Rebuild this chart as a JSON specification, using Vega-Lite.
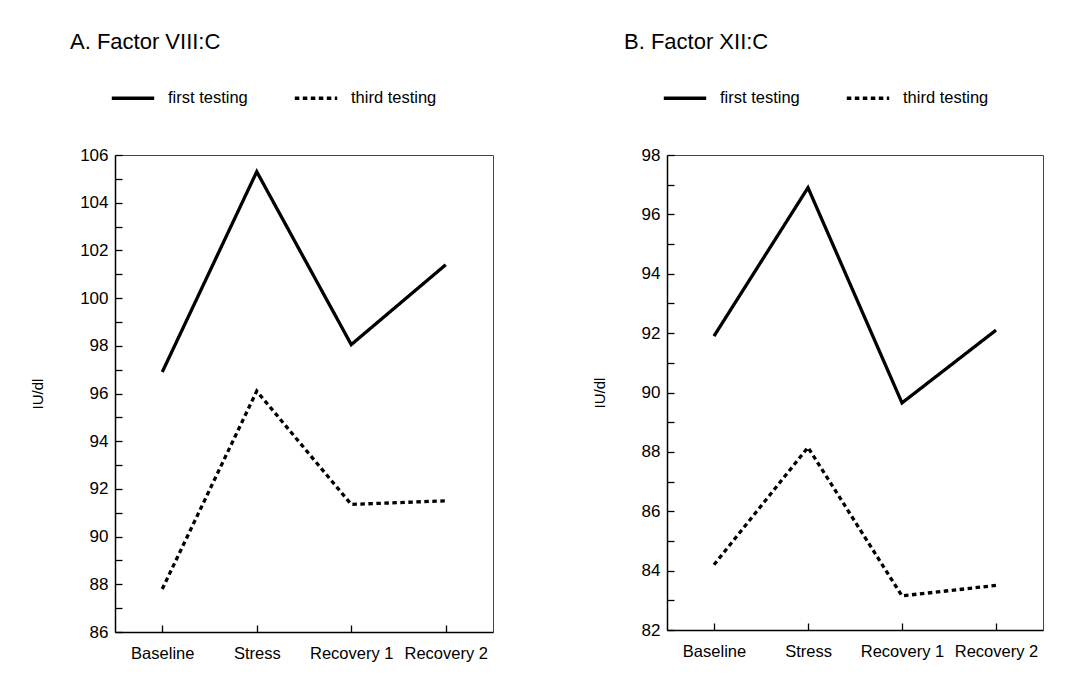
{
  "$schema": "https://vega.github.io/schema/vega-lite/v6.json",
  "background": "white",
  "padding": {"left": 30, "top": 30, "right": 5, "bottom": 5},
  "datasets": {
    "d": [
      {"panel": "A", "time": "Baseline", "testing": "first testing", "value": 96.9},
      {"panel": "A", "time": "Stress", "testing": "first testing", "value": 105.3},
      {"panel": "A", "time": "Recovery 1", "testing": "first testing", "value": 98.05},
      {"panel": "A", "time": "Recovery 2", "testing": "first testing", "value": 101.4},
      {"panel": "A", "time": "Baseline", "testing": "third testing", "value": 87.8},
      {"panel": "A", "time": "Stress", "testing": "third testing", "value": 96.1},
      {"panel": "A", "time": "Recovery 1", "testing": "third testing", "value": 91.35},
      {"panel": "A", "time": "Recovery 2", "testing": "third testing", "value": 91.5},
      {"panel": "B", "time": "Baseline", "testing": "first testing", "value": 91.9},
      {"panel": "B", "time": "Stress", "testing": "first testing", "value": 96.9},
      {"panel": "B", "time": "Recovery 1", "testing": "first testing", "value": 89.65},
      {"panel": "B", "time": "Recovery 2", "testing": "first testing", "value": 92.1},
      {"panel": "B", "time": "Baseline", "testing": "third testing", "value": 84.2},
      {"panel": "B", "time": "Stress", "testing": "third testing", "value": 88.15},
      {"panel": "B", "time": "Recovery 1", "testing": "third testing", "value": 83.15},
      {"panel": "B", "time": "Recovery 2", "testing": "third testing", "value": 83.5}
    ]
  },
  "spacing": 97,
  "resolve": {
    "scale": {"x": "independent", "y": "independent", "strokeDash": "independent"},
    "legend": {"strokeDash": "independent"}
  },
  "hconcat": [
    {
      "width": 378,
      "height": 477,
      "title": {"text": "A. Factor VIII:C", "dx": -45},
      "data": {"name": "d"},
      "transform": [{"filter": "datum.panel === 'A'"}],
      "mark": {"type": "line", "color": "black", "strokeWidth": 3.3, "strokeCap": "butt"},
      "encoding": {
        "x": {
          "field": "time", "type": "ordinal",
          "sort": ["Baseline", "Stress", "Recovery 1", "Recovery 2"],
          "scale": {"type": "point", "padding": 0.5},
          "axis": {"title": null}
        },
        "y": {
          "field": "value", "type": "quantitative",
          "scale": {"domain": [86, 106], "nice": false, "zero": false},
          "axis": {
            "title": "IU/dl",
            "values": [86,87,88,89,90,91,92,93,94,95,96,97,98,99,100,101,102,103,104,105,106],
            "labelExpr": "datum.value % 2 === 0 ? datum.label : ''"
          }
        },
        "strokeDash": {
          "field": "testing", "type": "nominal",
          "scale": {"domain": ["first testing", "third testing"], "range": [[1, 0], [4.5, 3.5]]},
          "legend": {"legendX": -5, "legendY": -80}
        }
      }
    },
    {
      "width": 376,
      "height": 475,
      "title": {"text": "B. Factor XII:C", "dx": -43},
      "data": {"name": "d"},
      "transform": [{"filter": "datum.panel === 'B'"}],
      "mark": {"type": "line", "color": "black", "strokeWidth": 3.3, "strokeCap": "butt"},
      "encoding": {
        "x": {
          "field": "time", "type": "ordinal",
          "sort": ["Baseline", "Stress", "Recovery 1", "Recovery 2"],
          "scale": {"type": "point", "padding": 0.5},
          "axis": {"title": null}
        },
        "y": {
          "field": "value", "type": "quantitative",
          "scale": {"domain": [82, 98], "nice": false, "zero": false},
          "axis": {
            "title": "IU/dl",
            "values": [82,83,84,85,86,87,88,89,90,91,92,93,94,95,96,97,98],
            "labelExpr": "datum.value % 2 === 0 ? datum.label : ''"
          }
        },
        "strokeDash": {
          "field": "testing", "type": "nominal",
          "scale": {"domain": ["first testing", "third testing"], "range": [[1, 0], [4.5, 3.5]]},
          "legend": {"legendX": -5, "legendY": -80}
        }
      }
    }
  ],
  "config": {
    "font": "Liberation Sans",
    "view": {"stroke": "#444", "strokeWidth": 1},
    "title": {"fontSize": 22, "fontWeight": "normal", "anchor": "start", "frame": "group", "color": "black", "offset": 21},
    "axis": {
      "grid": false,
      "domainColor": "black",
      "domainWidth": 1.5,
      "tickColor": "black",
      "tickWidth": 1.3,
      "tickSize": -7,
      "labelColor": "black",
      "labelFontSize": 17,
      "labelPadding": 14,
      "titleColor": "black",
      "titleFontSize": 15,
      "titleFontWeight": "normal",
      "titlePadding": 34
    },
    "axisX": {"labelAngle": 0, "labelFontSize": 16.5, "labelPadding": 20},
    "legend": {
      "orient": "none",
      "direction": "horizontal",
      "title": null,
      "symbolType": "stroke",
      "symbolSize": 1800,
      "symbolStrokeWidth": 3.3,
      "symbolStrokeColor": "black",
      "labelFontSize": 16.5,
      "labelColor": "black",
      "labelOffset": 12,
      "columnPadding": 40
    }
  }
}
